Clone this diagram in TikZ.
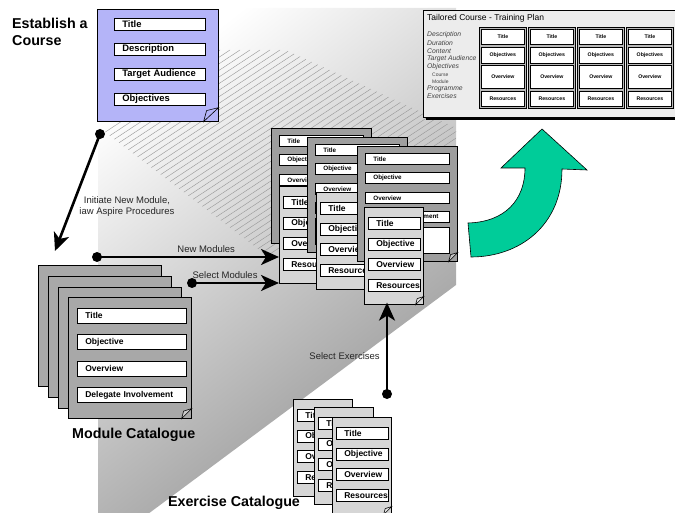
\documentclass[tikz,border=0pt]{standalone}
\usepackage{fontspec}
\setmainfont{Liberation Sans}
\usetikzlibrary{arrows.meta,positioning,calc,shapes.misc,shadows}

\definecolor{coursefill}{RGB}{180,180,248}
\definecolor{modfill}{RGB}{158,158,158}
\definecolor{catfill}{RGB}{168,168,168}
\definecolor{exfill}{RGB}{214,214,214}
\definecolor{planfill}{RGB}{236,236,236}
\definecolor{colfill}{RGB}{185,185,185}
\definecolor{turnfill}{RGB}{0,204,153}
\definecolor{hatchcol}{RGB}{150,150,150}

\begin{document}
\begin{tikzpicture}[x=1pt,y=-1pt,
  >={Stealth[length=18pt,width=16pt,inset=5pt]},
  doc/.style={draw,line width=0.6pt,chamfered rectangle,chamfered rectangle corners=south east,
    chamfered rectangle xsep=#1,chamfered rectangle ysep=#1,anchor=north west,inner sep=0pt},
  coursedoc/.style={doc=14pt,fill=coursefill,minimum width=121pt,minimum height=112pt},
  catdoc/.style={doc=9pt,fill=catfill,minimum width=123pt,minimum height=121pt},
  moddoc/.style={doc=8pt,fill=modfill,minimum width=100pt,minimum height=115pt},
  exdoc/.style={doc=7pt,fill=exfill,minimum width=59pt,minimum height=97pt},
  flap/.style={draw,line width=0.6pt,fill=#1},
  field/.style={draw,fill=white,line width=0.7pt,anchor=north west,inner ysep=0pt,inner xsep=#1,align=left},
  coursefield/.style={field=8pt,text width=75pt,minimum height=12pt,
    font=\fontsize{9.4}{10}\selectfont\bfseries},
  catfield/.style={field=8pt,text width=93pt,minimum height=15pt,
    font=\fontsize{8.5}{10}\selectfont\bfseries},
  modfield/.style={field=8pt,text width=68pt,minimum height=11pt,
    font=\fontsize{6.3}{7}\selectfont\bfseries},
  exfield/.style={field=8pt,text width=36pt,minimum height=12pt,
    font=\fontsize{8.5}{10}\selectfont\bfseries},
  plan/.style={draw,fill=planfill,line width=0.6pt,anchor=north west,minimum width=254pt,minimum height=107pt,
    drop shadow={shadow xshift=3pt,shadow yshift=-3pt,fill=black,opacity=1}},
  plancol/.style={draw,fill=colfill,line width=0.6pt,anchor=north west,minimum width=47pt,minimum height=81pt,inner sep=0pt},
  plancell/.style={draw,fill=white,line width=0.7pt,anchor=north west,minimum width=43pt,inner sep=0pt,
    font=\fontsize{5.2}{6}\selectfont\bfseries},
  listtext/.style={anchor=west,inner sep=0pt,text=black!75,font=\fontsize{6.8}{8}\selectfont\itshape},
  subtext/.style={anchor=west,inner sep=0pt,text=black!75,font=\fontsize{5}{6}\selectfont},
  title/.style={inner sep=0pt,align=left,font=\fontsize{14.3}{17}\selectfont\bfseries},
  lab/.style={inner sep=0pt,align=center,text=black!85,font=\fontsize{9.5}{11}\selectfont},
  dot/.style={circle,fill=black,inner sep=0pt,minimum size=10pt},
  flow/.style={->,line width=2.6pt},
  hatch/.style={draw=hatchcol,line width=0.4pt},
  turn/.style={fill=turnfill,draw=black,line width=0.6pt}
]
\useasboundingbox (0,0) rectangle (675,513);

% shaded backdrop
\shade[top color=white,bottom color=black!42,shading angle=38]
  (98,8) -- (456,8) -- (456,285) -- (148,514) -- (98,514) -- cycle;
\begin{scope}
  \clip (105,132) -- (242,30) -- (456,128) -- (456,140) -- (270,258) -- cycle;
  \foreach \i in {-300,-290,...,700}
    \draw[hatch] (\i,300) -- ++(380,-250);
\end{scope}

% establish a course
\node[title,anchor=north west] (establish) at (12,18) {Establish a\\Course};
\node[coursedoc] (course) at (97,9) {};
\foreach \t [count=\k] in {Title,Description,Target Audience,Objectives}
  \node[coursefield] (course-f\k) at ($(course.north west)+(17,{9+(\k-1)*25})$) {\t};
\filldraw[flap=coursefill] ($(course.south -| course.east)+(-15,0)$) -- ++(3,-11) -- ++(12,-3) -- cycle;

% training plan
\node[plan] (plan) at (423,10) {};
\node[anchor=west,inner sep=0pt,font=\fontsize{8.5}{10}\selectfont] (plantitle) at (427,18) {Tailored Course - Training Plan};
\foreach \t/\yy [count=\k] in {Description/35,Duration/43,Content/51,Target Audience/59,Objectives/66.5,Programme/89,Exercises/96.5}
  \node[listtext] (item\k) at (427,\yy) {\t};
\foreach \t/\yy [count=\k] in {Course/74.5,Module/81.5}
  \node[subtext] (subitem\k) at (432,\yy) {\t};
\foreach \c in {0,...,3} {
  \node[plancol] (col\c) at (479+49*\c,27) {};
  \node[plancell,minimum height=15pt,below right=2pt and 2pt of col\c.north west] (col\c-a) {Title};
  \node[plancell,minimum height=16pt,below right=20pt and 2pt of col\c.north west] (col\c-b) {Objectives};
  \node[plancell,minimum height=23pt,below right=38pt and 2pt of col\c.north west] (col\c-c) {Overview};
  \node[plancell,minimum height=15pt,below right=64pt and 2pt of col\c.north west] (col\c-d) {Resources};
}

% turning arrow
\filldraw[turn] (468,223) .. controls (505,222) and (525,200) .. (525,168) -- (501,168) -- (542,129)
  -- (587,170) -- (562,169) .. controls (562,225) and (520,257) .. (471,257) -- cycle;

% module catalogue
\foreach \n/\xx/\yy in {1/38/265,2/48/276,3/58/287,4/68/297} {
  \node[catdoc] (cat\n) at (\xx,\yy) {};
  \filldraw[flap=catfill!60!white] ($(cat\n.south -| cat\n.east)+(-10,0)$) -- ++(2,-7.5) -- ++(8,-2.5) -- cycle;
}
\foreach \t [count=\k] in {Title,Objective,Overview,Delegate Involvement}
  \node[catfield] (cat4-f\k) at ($(cat4.north west)+(9,{11+(\k-1)*26.4})$) {\t};
\node[title,below=9pt of cat4,xshift=4pt] (modcat) {Module Catalogue};

% selected modules with their exercises (last field of A and B is hidden)
\foreach \m/\mx/\my/\ex/\ey/\last in {A/271/128/279/186/{},B/307/137/316/192/{},C/357/146/364/207/Delegate Involvement} {
  \node[moddoc] (mod\m) at (\mx,\my) {};
  \foreach \t [count=\k] in {Title,Objective,Overview}
    \node[modfield] (mod\m-f\k) at ($(mod\m.north west)+(8,{7+(\k-1)*19.5})$) {\t};
  \node[modfield] (mod\m-f4) at ($(mod\m.north west)+(8,65.5)$) {\last};
  \node[modfield,minimum height=26pt] (mod\m-f5) at ($(mod\m.north west)+(8,81)$) {};
  \filldraw[flap=modfill!60!white] ($(mod\m.south -| mod\m.east)+(-9,0)$) -- ++(2,-7) -- ++(7,-2) -- cycle;
  \node[exdoc] (ex\m) at (\ex,\ey) {};
  \foreach \t [count=\k] in {Title,Objective,Overview,Resources}
    \node[exfield] (ex\m-f\k) at ($(ex\m.north west)+(4,{10+(\k-1)*20.7})$) {\t};
  \filldraw[flap=exfill!60!white] ($(ex\m.south -| ex\m.east)+(-8,0)$) -- ++(1.6,-6) -- ++(6.4,-2) -- cycle;
}

% exercise catalogue
\foreach \n/\xx/\yy in {1/293/399,2/314/407,3/332/417} {
  \node[exdoc] (excat\n) at (\xx,\yy) {};
  \foreach \t [count=\k] in {Title,Objective,Overview,Resources}
    \node[exfield] (excat\n-f\k) at ($(excat\n.north west)+(4,{10+(\k-1)*20.7})$) {\t};
  \filldraw[flap=exfill!60!white] ($(excat\n.south -| excat\n.east)+(-8,0)$) -- ++(1.6,-6) -- ++(6.4,-2) -- cycle;
}
\node[title] (excat) at (234,503) {Exercise Catalogue};

% flows
\node[dot] (initDot) at (100,134) {};
\coordinate (initTip) at (55,251);
\draw[flow] (initDot.center) -- node[lab,right=6pt,pos=0.62] {Initiate New Module,\\iaw Aspire Procedures} (initTip);
\node[dot] (newDot) at (97,257) {};
\draw[flow] (newDot.center) -- node[lab,above=3pt,pos=0.6] {New Modules} (newDot -| exA.west);
\node[dot] (selDot) at (192,283) {};
\draw[flow] (selDot.center) -- node[lab,above=3pt,pos=0.38] {Select Modules} (selDot -| exA.west);
\node[dot] (exDot) at (387,394) {};
\draw[flow,shorten >=-2pt] (exDot.center) -- node[lab,left=6pt,pos=0.42] {Select Exercises} (exDot |- exC.south);
\end{tikzpicture}
\end{document}
